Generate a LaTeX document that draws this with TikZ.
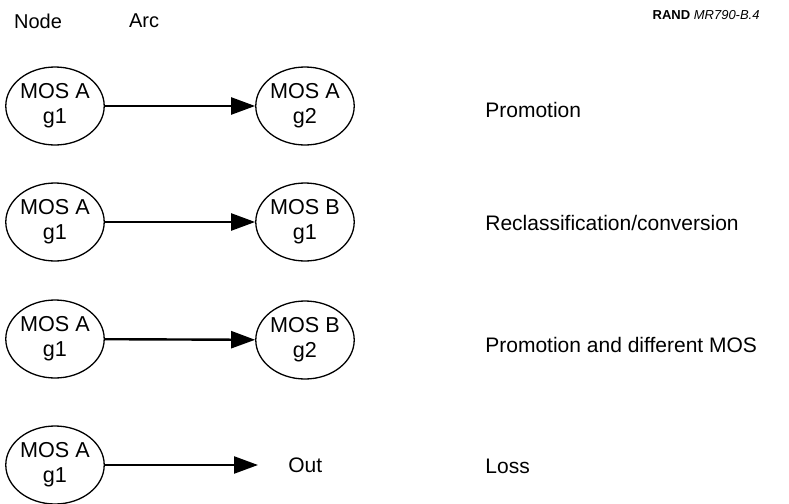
\documentclass[tikz,border=0pt]{standalone}
\usepackage{fontspec}
\setmainfont{Liberation Sans}
\usetikzlibrary{arrows.meta,shapes.geometric}
\tikzset{
    mos/.style={ellipse, draw, line width=0.65pt, minimum width=47pt, minimum height=39pt, inner sep=0pt, align=center, font=\fontsize{10.8}{12.5}\selectfont},
    arc/.style={line width=1.2pt, -{Triangle[length=12pt,width=8.5pt]}},
    lbl/.style={anchor=west, inner sep=0pt, font=\fontsize{10.5}{12}\selectfont},
    head/.style={font=\fontsize{10}{12}\selectfont},
}

\begin{document}
\begin{tikzpicture}[x=0.5pt,y=-0.5pt]
\useasboundingbox (0,0) rectangle (789,504);
\node[head] (hnode) at (38,21) {Node};
\node[head] (harc) at (144,21) {Arc};
\node[anchor=east, inner sep=0pt, font=\fontsize{6.5}{8}\selectfont] (rand) at (760,15) {\textbf{RAND} \textit{MR790-B.4}};

% promotion
\node[mos] (a1) at (55,106) {MOS A\\g1};
\node[mos] (b1) at (305,106) {MOS A\\g2};
\draw[arc] (a1) -- (b1);
\node[lbl] (l1) at (485,110) {Promotion};

% reclassification
\node[mos] (a2) at (55,222) {MOS A\\g1};
\node[mos] (b2) at (305,222) {MOS B\\g1};
\draw[arc] (a2) -- (b2);
\node[lbl] (l2) at (485,223) {Reclassification/conversion};

% promotion + new MOS
\node[mos] (a3) at (55,339) {MOS A\\g1};
\node[mos] (b3) at (305,340) {MOS B\\g2};
\draw[arc] (a3) -- (b3);
\node[lbl] (l3) at (485,345) {Promotion and different MOS};

% loss
\node[mos] (a4) at (55,465) {MOS A\\g1};
\node[lbl] (out) at (288,465) {Out};
\draw[arc, shorten >=15pt] (a4) -- (out.west);
\node[lbl] (l4) at (485,466) {Loss};
\end{tikzpicture}
\end{document}
